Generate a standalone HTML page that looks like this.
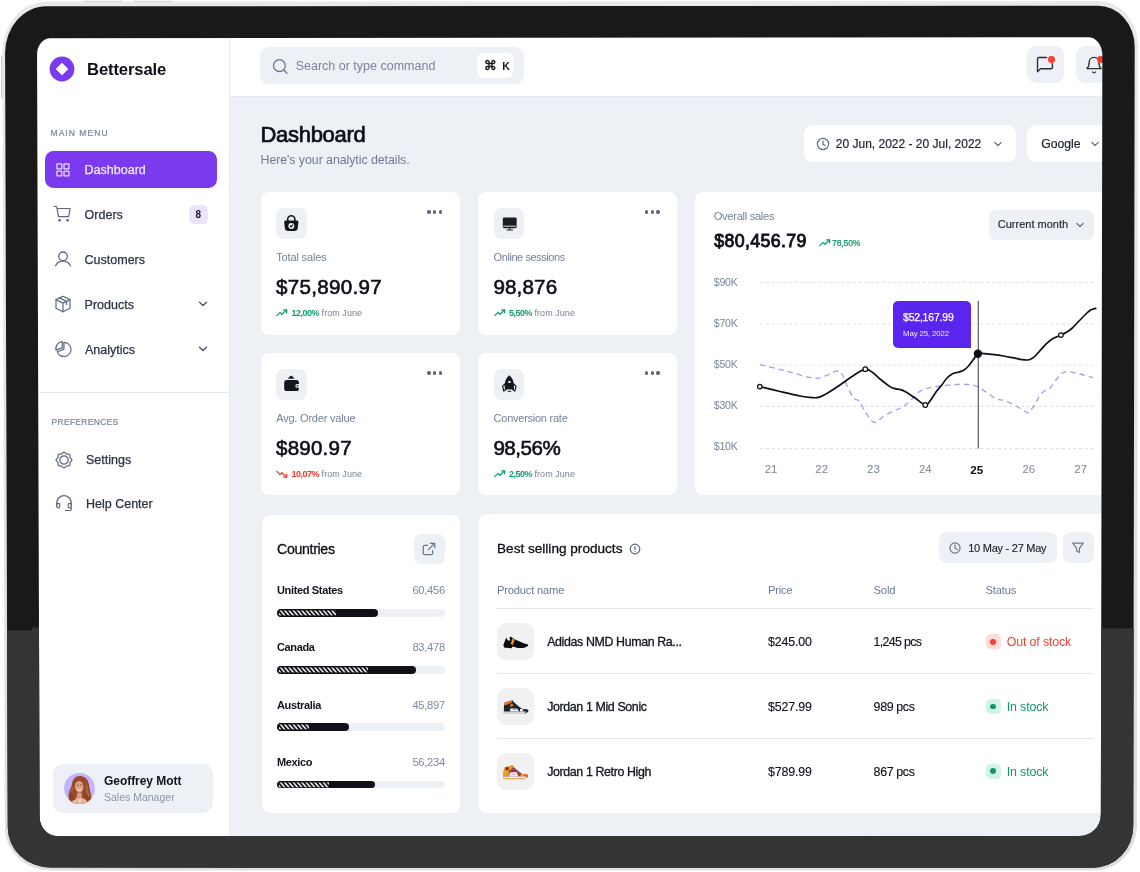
<!DOCTYPE html>
<html lang="en">
<head>
<meta charset="utf-8">
<title>Bettersale Dashboard</title>
<style>
*{box-sizing:border-box;margin:0;padding:0}
html,body{width:1140px;height:872px;background:#fff;overflow:hidden}
body{font-family:"Liberation Sans",sans-serif;color:#0f1117;position:relative}
.abs{position:absolute}
.t{position:absolute;white-space:nowrap;line-height:1}
/* device */
#screen{position:absolute;left:38px;top:38px;width:1070px;height:802px;background:#edf0f5}
#scrbg{position:absolute;left:34px;top:34px;width:1074px;height:806px;background:linear-gradient(90deg,#fff 0,#fff 195px,#edf0f5 195px)}
#scrbg2{position:absolute;left:200px;top:34px;width:908px;height:10px;background:#fff}
/* sidebar */
#side{position:absolute;left:0;top:0;width:192px;height:802px;background:#fff;border-right:1px solid #e8ebf2}
#topbar{position:absolute;left:192px;top:0;width:881px;height:59.2px;background:#fff;border-bottom:1px solid #e6e9f0}
.nav{position:absolute;left:46.6px;margin-top:.6px;font-size:12.5px;color:#2b3245;white-space:nowrap;line-height:1;-webkit-text-stroke:.25px #2b3245}
.sec{position:absolute;left:13px;font-size:8.5px;letter-spacing:.6px;color:#7a869d;-webkit-text-stroke:.2px #7a869d;line-height:1;white-space:nowrap}
</style>
</head>
<body>
<div id="scrbg"></div><div id="scrbg2"></div>
<div id="screen">
  <div id="side">
    <svg class="abs" style="left:11.2px;top:18.2px" width="26" height="26" viewBox="0 0 26 26"><circle cx="13" cy="13" r="12.4" fill="#7a3aed"/><path d="M13 7.6 L18.4 13 L13 18.4 L7.6 13 Z" fill="#fff" stroke="#fff" stroke-width="1.2" stroke-linejoin="round"/></svg>
    <div class="t" id="brand" style="left:49px;top:24.2px;font-size:16.6px;font-weight:700;letter-spacing:-.1px;color:#0d0f16">Bettersale</div>
    <div class="sec" style="top:90.5px;left:12.5px;letter-spacing:1.05px">MAIN MENU</div>
    <div class="abs" style="left:6.700px;top:112.500px;width:172.500px;height:37px;border-radius:8.500px;background:#7b3aee"></div>
    <svg class="abs" style="left:18px;top:124.5px" width="14" height="14" viewBox="0 0 14 14" fill="none" stroke="#e9dcff" stroke-width="1.25"><rect x=".9" y=".9" width="4.900" height="4.900" rx=".4"/><rect x="8" y=".9" width="4.900" height="4.900" rx=".4"/><rect x=".9" y="8" width="4.900" height="4.900" rx=".4"/><rect x="8" y="8" width="4.900" height="4.900" rx=".4"/></svg>
    <div class="nav" style="top:125.5px;color:#f1e9ff;-webkit-text-stroke:.25px #f1e9ff">Dashboard</div>

    <svg class="abs" style="left:15px;top:166px" width="20" height="20" viewBox="0 0 20 20" fill="none" stroke="#5d6880" stroke-width="1.2" stroke-linecap="round" stroke-linejoin="round"><path d="M1 2.5h2.6l2 10.2h10l1.6-8.2H4.2"/><circle cx="6.6" cy="16.3" r=".8" fill="#5d6880"/><circle cx="14.6" cy="16.3" r=".8" fill="#5d6880"/></svg>
    <div class="nav" style="top:170px">Orders</div>
    <div class="abs" style="left:151px;top:167px;width:19px;height:18.6px;border-radius:5.5px;background:#ece3fe"></div>
    <div class="t" style="left:157.6px;top:171.8px;font-size:10px;font-weight:700;color:#16181f">8</div>

    <svg class="abs" style="left:15px;top:211px" width="20" height="20" viewBox="0 0 20 20" fill="none" stroke="#5d6880" stroke-width="1.3" stroke-linecap="round"><circle cx="10" cy="7.300" r="4.300"/><path d="M2.600 16.800c1.300-3 4-4.700 7.400-4.700s6.100 1.700 7.400 4.700"/></svg>
    <div class="nav" style="top:215px">Customers</div>

    <svg class="abs" style="left:15px;top:256px" width="20" height="20" viewBox="0 0 20 20" fill="none" stroke="#5d6880" stroke-width="1.2" stroke-linejoin="round" stroke-linecap="round"><path d="M10 2.2l7 3.4v8.6l-7 3.6-7-3.6V5.600z"/><path d="M3 5.600l7 3.500 7-3.500M10 9.100v8.700M6.400 3.900l7.100 3.500v3.200"/></svg>
    <div class="nav" style="top:260px">Products</div>
    <svg class="abs" style="left:160px;top:262px" width="10" height="8" viewBox="0 0 10 8" fill="none" stroke="#4d5870" stroke-width="1.4" stroke-linecap="round" stroke-linejoin="round"><path d="M1.500 2.200l3.500 3.300 3.500-3.300"/></svg>

    <svg class="abs" style="left:15px;top:301px" width="20" height="20" viewBox="0 0 20 20" fill="none" stroke="#5d6880" stroke-width="1.2" stroke-linejoin="round" stroke-linecap="round"><path d="M10.900 3.300A7.100 7.100 0 1 1 4.200 12.800L10.900 10.400Z"/><path d="M9.300 2.700A7.100 7.100 0 0 0 2.900 11.100L9.300 8.900Z"/></svg>
    <div class="nav" style="top:305px;left:47px">Analytics</div>
    <svg class="abs" style="left:160px;top:307px" width="10" height="8" viewBox="0 0 10 8" fill="none" stroke="#4d5870" stroke-width="1.4" stroke-linecap="round" stroke-linejoin="round"><path d="M1.500 2.200l3.500 3.300 3.500-3.300"/></svg>

    <div class="abs" style="left:0;top:354px;width:191px;height:1px;background:#e6e9f1"></div>
    <div class="sec" style="top:380px;left:13.5px;letter-spacing:.3px">PREFERENCES</div>

    <svg class="abs" style="left:16px;top:411.500px" width="20" height="20" viewBox="0 0 20 20" fill="none" stroke="#5d6880" stroke-width="1.200" stroke-linejoin="round"><path d="M8.83 2.83Q10 1.3 11.17 2.83Q12.33 4.36 14.24 4.11Q16.15 3.85 15.89 5.76Q15.64 7.67 17.17 8.83Q18.7 10 17.17 11.17Q15.64 12.33 15.89 14.24Q16.15 16.15 14.24 15.89Q12.33 15.64 11.17 17.17Q10 18.7 8.83 17.17Q7.67 15.64 5.76 15.89Q3.85 16.15 4.11 14.24Q4.36 12.33 2.83 11.17Q1.3 10 2.83 8.83Q4.36 7.67 4.11 5.76Q3.85 3.85 5.76 4.11Q7.67 4.36 8.83 2.83Z"/><circle cx="10" cy="10" r="4.200"/></svg>
    <div class="nav" style="top:415.500px;left:48px">Settings</div>

    <svg class="abs" style="left:16px;top:455px" width="20" height="20" viewBox="0 0 20 20" fill="none" stroke="#5d6880" stroke-width="1.200" stroke-linecap="round" stroke-linejoin="round"><path d="M2.800 12.600V9.800a7.200 7.200 0 0 1 14.400 0v2.800"/><path d="M2.800 10.400h1.700a1.300 1.300 0 0 1 1.300 1.300v1.900a1.300 1.300 0 0 1-1.300 1.300h-.400a1.300 1.300 0 0 1-1.300-1.300zM17.200 10.400h-1.700a1.300 1.300 0 0 0-1.300 1.300v1.900a1.300 1.300 0 0 0 1.300 1.300h1.700z"/><path d="M17.200 14.900v1.300a1.300 1.300 0 0 1-1.300 1.300h-4.400"/></svg>
    <div class="nav" style="top:459px;left:48px">Help Center</div>

    <div class="abs" style="left:15px;top:726px;width:160px;height:49px;border-radius:10px;background:#edf0f5"></div>
    <svg class="abs" style="left:26.300px;top:734.900px" width="31" height="31" viewBox="0 0 31 31"><defs><clipPath id="av"><circle cx="15.500" cy="15.500" r="15.400"/></clipPath></defs><circle cx="15.500" cy="15.500" r="15.400" fill="#c2b3fb"/><g clip-path="url(#av)"><path d="M15.600 3.100c-4.300 0-6.900 3.300-7.500 7.700-.500 3.800-2.800 5.600-3.500 9.800-.600 3.600.600 7.400 2.600 10.400h19.200c1.600-3.300 1.300-7.600.100-11.400-1.100-3.500-.900-8.300-2.900-12.100-1.500-2.800-4.400-4.400-8-4.400z" fill="#97492a"/><path d="M8.600 14c-1.600 2.600-3.200 4.800-3.600 8 .800-2.400 2.400-4 3.900-5.600zM22.300 9c1.400 3 1.200 6.600 2 9.600.500 2 1.400 4.200 1.300 6.400-1.500-2.400-3-5.500-3.300-8.500z" fill="#b96d43"/><ellipse cx="15.200" cy="13.700" rx="4.300" ry="5.700" fill="#dba283" transform="rotate(-6 15.200 13.700)"/><path d="M11 9.600c.800-2.400 3.200-3.600 5.600-3.200 2 .300 3.400 1.400 3.800 3.400-1.400-1.500-3.300-1.900-5.200-1.700-1.700.200-3.100.800-4.200 1.500z" fill="#97492a"/><path d="M12.600 12.300h1.800M16.400 12h1.800" stroke="#7a4a3a" stroke-width=".700" stroke-linecap="round"/><path d="M7.600 31c.400-3.600 3.200-6.200 7.900-6.200s7.400 2.400 8.200 6.200z" fill="#e3b9a2"/><path d="M13.200 19.400h4.300l.600 5.800h-5.600z" fill="#d69b7c"/><path d="M13.400 16.600c1.200 1 2.800 1 3.900-.100" stroke="#fff" stroke-width=".900" fill="none" stroke-linecap="round"/><path d="M5.400 20.600c1.600-.400 3 .600 3.400 2.400.400 2 1.600 3.200 3.200 3.800-2.200.600-4.800-.200-6-2.200-.700-1.300-.900-2.700-.600-4zM20.600 19c1.800 1.600 2.400 4.200 4.400 5.800.900.700 1.300 1.700 1 3-2.400-.200-4.600-1.800-5.400-4.200-.500-1.500-.400-3.100 0-4.600z" fill="#8a4125"/><path d="M15 26.600l.900 3.400.900-3.400z" fill="#f5f5f7"/></g></svg>
    <div class="t" id="uname" style="left:66px;top:737px;font-size:12px;font-weight:700;color:#12141c;letter-spacing:-.05px">Geoffrey Mott</div>
    <div class="t" id="urole" style="left:66px;top:753.700px;font-size:10.500px;color:#8b95a9">Sales Manager</div>
  </div>
  <div id="topbar">
    <div class="abs" style="left:30px;top:9px;width:264px;height:37px;border-radius:9px;background:#edf0f5"></div>
    <svg class="abs" style="left:41.5px;top:19.700px" width="17" height="17" viewBox="0 0 17 17" fill="none" stroke="#6b7690" stroke-width="1.300" stroke-linecap="round"><circle cx="7.400" cy="7.600" r="5.900"/><path d="M11.700 12l3.200 3.200"/></svg>
    <div class="t" id="ph" style="left:65.7px;top:22.100px;font-size:12.500px;color:#7a859c">Search or type command</div>
    <div class="abs" style="left:247.3px;top:15px;width:35.400px;height:24.500px;border-radius:6px;background:#fff"></div>
    <div class="t" style="left:253.5px;top:21px;font-size:11px;font-weight:700;color:#16181f;font-family:'Liberation Sans','DejaVu Sans',sans-serif"><span style="font-family:'DejaVu Sans',sans-serif;font-size:13.2px;font-weight:400;-webkit-text-stroke:.45px #16181f">&#8984;</span><span style="font-size:10.5px;margin-left:5.5px">K</span></div>

  </div>
<!--MAIN-->
<div id="main" style="position:absolute;left:-38px;top:-38px;width:1140px;height:872px">
<div class="abs" style="left:1026.7px;top:45.6px;width:37px;height:37.2px;background:#edf0f5;border-radius:9px;"></div>
<svg class="abs" style="left:1030px;top:50px" width="30" height="30" viewBox="0 0 30 30" fill="none" stroke="#2a2f3a" stroke-width="1.35" stroke-linecap="round" stroke-linejoin="round"><path d="M16.6 7.500H8.700a1.200 1.200 0 0 0-1.200 1.200V21.700l3-3h10.700a1.200 1.200 0 0 0 1.200-1.200V13.600"/></svg>
<div class="abs" style="left:1047.8px;top:55.8px;width:6.8px;height:6.8px;background:#ff3b2f;border-radius:3.4px;"></div>
<div class="abs" style="left:1076.3px;top:45.6px;width:37px;height:37.2px;background:#edf0f5;border-radius:9px;"></div>
<svg class="abs" style="left:1079.2px;top:50px" width="30" height="30" viewBox="0 0 30 30" fill="none" stroke="#2a2f3a" stroke-width="1.35" stroke-linecap="round" stroke-linejoin="round"><path d="M7.900 18.600c1.700-1.500 2.300-3.400 2.300-6.400a4.800 4.800 0 0 1 9.600 0c0 3 .600 4.900 2.300 6.400z"/><path d="M13.500 22a1.800 1.800 0 0 0 3 0"/></svg>
<div class="abs" style="left:1096.8px;top:55.8px;width:6.8px;height:6.8px;background:#ff3b2f;border-radius:3.4px;"></div>
<div class="t" id="h1" style="left:260.5px;top:123.96px;font-size:22px;color:#0d0f16;letter-spacing:-0.3px;-webkit-text-stroke:0.7px #0d0f16;">Dashboard</div>
<div class="t" id="sub" style="left:260.5px;top:153.85px;font-size:12.4px;color:#6f7a92;letter-spacing:-0.07px;">Here's your analytic details.</div>
<div class="abs" style="left:803.5px;top:125.4px;width:212.8px;height:36.6px;background:#fff;border-radius:8.5px;"></div>
<svg class="abs" style="left:814.8px;top:136.2px" width="16" height="16" viewBox="0 0 16 16" fill="none" stroke="#5d6880" stroke-width="1.2" stroke-linecap="round" stroke-linejoin="round"><circle cx="8" cy="8" r="5.6"/><path d="M8 4.8v3.4l2.2 1.3"/></svg>
<div class="t" id="dp" style="left:835.8px;top:137.96px;font-size:12px;color:#1c2130;-webkit-text-stroke:0.2px #1c2130;">20 Jun, 2022 - 20 Jul, 2022</div>
<svg class="abs" style="left:993.3px;top:139.8px" width="10" height="8" viewBox="0 0 10 8" fill="none" stroke="#5d6880" stroke-width="1.2" stroke-linecap="round" stroke-linejoin="round"><path d="M1.7 2.4l3.3 3.1 3.3-3.1"/></svg>
<div class="abs" style="left:1027.2px;top:125.4px;width:95px;height:36.6px;background:#fff;border-radius:9px;"></div>
<div class="t" id="goog" style="left:1041.2px;top:137.86px;font-size:12.2px;color:#1c2130;-webkit-text-stroke:0.2px #1c2130;">Google</div>
<svg class="abs" style="left:1090px;top:139.8px" width="10" height="8" viewBox="0 0 10 8" fill="none" stroke="#5d6880" stroke-width="1.2" stroke-linecap="round" stroke-linejoin="round"><path d="M1.7 2.4l3.3 3.1 3.3-3.1"/></svg>
<div class="abs" style="left:260.8px;top:192px;width:199.1px;height:142.6px;background:#fff;border-radius:8px;"></div>
<div class="abs" style="left:276.1px;top:207.6px;width:30.7px;height:31px;background:#edf0f5;border-radius:7.5px;"></div>
<svg class="abs" style="left:276.1px;top:207.6px" width="30.7" height="31" viewBox="0 0 30.7 31" ><path d="M9.600 12.600h11.400a1.400 1.400 0 0 1 1.400 1.600l-.700 6.400a2.800 2.800 0 0 1-2.800 2.500h-7.200a2.800 2.800 0 0 1-2.800-2.500l-.700-6.400a1.400 1.400 0 0 1 1.400-1.600z" fill="#14161c"/><path d="M11.700 13v-1.700a3.600 3.600 0 0 1 7.200 0V13" fill="none" stroke="#14161c" stroke-width="1.600"/><circle cx="15.300" cy="17.900" r="3" fill="#edf0f5"/><path d="M13.900 17.800l1.100 1.100 2.100-2.300" fill="none" stroke="#14161c" stroke-width="1.200"/></svg>
<div class="abs" style="left:427.4px;top:210.2px;width:3.4px;height:3.4px;background:#5d6880;border-radius:1.7px;"></div>
<div class="abs" style="left:433.1px;top:210.2px;width:3.4px;height:3.4px;background:#5d6880;border-radius:1.7px;"></div>
<div class="abs" style="left:438.8px;top:210.2px;width:3.4px;height:3.4px;background:#5d6880;border-radius:1.7px;"></div>
<div class="t" style="left:276.2px;top:252.18px;font-size:11px;color:#76819a;letter-spacing:-0.15px;">Total sales</div>
<div class="t" style="left:276px;top:276.5px;font-size:20.6px;color:#0d0f16;letter-spacing:0.3px;-webkit-text-stroke:0.6px #0d0f16;">$75,890.97</div>
<svg class="abs" style="left:276.2px;top:309.2px" width="12" height="8" viewBox="0 0 12 8" fill="none" stroke="#0f9d6c" stroke-width="1.3" stroke-linecap="round" stroke-linejoin="round"><path d="M.8 6.6l3.2-3.2 1.9 1.9 4.6-4.4"/><path d="M7.7 .9h2.9v2.9"/></svg>
<div class="t" style="left:291.5px;top:308.52px;font-size:9px;color:#76819a;letter-spacing:0.05px;"><b style="color:#0f9d6c;letter-spacing:-0.5px">12,00%</b> from June</div>
<div class="abs" style="left:478.2px;top:192px;width:198.8px;height:142.6px;background:#fff;border-radius:8px;"></div>
<div class="abs" style="left:493.5px;top:207.6px;width:30.7px;height:31px;background:#edf0f5;border-radius:7.5px;"></div>
<svg class="abs" style="left:493.5px;top:207.6px" width="30.7" height="31" viewBox="0 0 30.7 31" ><path d="M10.200 9.500h11.100a1.400 1.400 0 0 1 1.400 1.400v7.900a1.400 1.400 0 0 1-1.400 1.400H10.200a1.400 1.400 0 0 1-1.400-1.400v-7.900a1.400 1.400 0 0 1 1.400-1.400z" fill="#1b1d23"/><path d="M9.300 18.150h12.900" stroke="#f3f5f9" stroke-width=".900"/><path d="M15.750 20.200v1.500M13 22h5.500" stroke="#1b1d23" stroke-width="1.100" fill="none" stroke-linecap="round"/></svg>
<div class="abs" style="left:644.8px;top:210.2px;width:3.4px;height:3.4px;background:#5d6880;border-radius:1.7px;"></div>
<div class="abs" style="left:650.5px;top:210.2px;width:3.4px;height:3.4px;background:#5d6880;border-radius:1.7px;"></div>
<div class="abs" style="left:656.2px;top:210.2px;width:3.4px;height:3.4px;background:#5d6880;border-radius:1.7px;"></div>
<div class="t" style="left:493.6px;top:252.18px;font-size:11px;color:#76819a;letter-spacing:-0.43px;">Online sessions</div>
<div class="t" style="left:493.4px;top:276.5px;font-size:20.6px;color:#0d0f16;letter-spacing:0.14px;-webkit-text-stroke:0.6px #0d0f16;">98,876</div>
<svg class="abs" style="left:493.6px;top:309.2px" width="12" height="8" viewBox="0 0 12 8" fill="none" stroke="#0f9d6c" stroke-width="1.3" stroke-linecap="round" stroke-linejoin="round"><path d="M.8 6.6l3.2-3.2 1.9 1.9 4.6-4.4"/><path d="M7.7 .9h2.9v2.9"/></svg>
<div class="t" style="left:508.9px;top:308.52px;font-size:9px;color:#76819a;letter-spacing:0.05px;"><b style="color:#0f9d6c;letter-spacing:-0.5px">5,50%</b> from June</div>
<div class="abs" style="left:260.8px;top:353.2px;width:199.1px;height:142px;background:#fff;border-radius:8px;"></div>
<div class="abs" style="left:276.1px;top:368.8px;width:30.7px;height:31px;background:#edf0f5;border-radius:7.5px;"></div>
<svg class="abs" style="left:276.1px;top:368.8px" width="30.7" height="31" viewBox="0 0 30.7 31" ><path d="M12 9.700c1.200-1.500 2-2.900 3.200-2.900s2 1.400 3.200 2.900z" fill="#14161c"/><rect x="8.200" y="10.900" width="14.700" height="11.100" rx="2.600" fill="#14161c"/><path d="M23.200 15h-2a1.900 1.900 0 0 0 0 3.800h2z" fill="#edf0f5"/><circle cx="21.500" cy="16.900" r=".800" fill="#14161c"/></svg>
<div class="abs" style="left:427.4px;top:371.4px;width:3.4px;height:3.4px;background:#5d6880;border-radius:1.7px;"></div>
<div class="abs" style="left:433.1px;top:371.4px;width:3.4px;height:3.4px;background:#5d6880;border-radius:1.7px;"></div>
<div class="abs" style="left:438.8px;top:371.4px;width:3.4px;height:3.4px;background:#5d6880;border-radius:1.7px;"></div>
<div class="t" style="left:276.2px;top:413.38px;font-size:11px;color:#76819a;letter-spacing:-0.2px;">Avg. Order value</div>
<div class="t" style="left:276px;top:437.7px;font-size:20.6px;color:#0d0f16;letter-spacing:0.2px;-webkit-text-stroke:0.6px #0d0f16;">$890.97</div>
<svg class="abs" style="left:276.2px;top:470.4px" width="12" height="8" viewBox="0 0 12 8" fill="none" stroke="#f0382c" stroke-width="1.3" stroke-linecap="round" stroke-linejoin="round"><path d="M.8 1.4l3.2 3.2 1.9-1.9 4.6 4.4"/><path d="M7.700 7.100h2.900v-2.900"/></svg>
<div class="t" style="left:291.5px;top:469.72px;font-size:9px;color:#76819a;letter-spacing:0.05px;"><b style="color:#f0382c;letter-spacing:-0.5px">10,07%</b> from June</div>
<div class="abs" style="left:478.2px;top:353.2px;width:198.8px;height:142px;background:#fff;border-radius:8px;"></div>
<div class="abs" style="left:493.5px;top:368.8px;width:30.7px;height:31px;background:#edf0f5;border-radius:7.5px;"></div>
<svg class="abs" style="left:493.5px;top:368.8px" width="30.7" height="31" viewBox="0 0 30.7 31" ><path d="M15.300 6.200c2.900 2.300 4.500 5.800 4.500 9.600v4.400h-9v-4.400c0-3.800 1.600-7.300 4.500-9.600z" fill="#14161c"/><path d="M11 14.800l-2.400 2.400 1.200 4.900 2.200-1.600zM19.600 14.800l2.400 2.400-1.200 4.900-2.200-1.600z" fill="#edf0f5" stroke="#14161c" stroke-width="1.200" stroke-linejoin="round"/><path d="M10.800 15v5.200h9V15z" fill="#14161c"/><rect x="14.300" y="12" width="2.200" height="1.900" rx=".500" fill="#edf0f5"/><path d="M14 22.200h2.800" stroke="#14161c" stroke-width="1.100" stroke-linecap="round"/></svg>
<div class="abs" style="left:644.8px;top:371.4px;width:3.4px;height:3.4px;background:#5d6880;border-radius:1.7px;"></div>
<div class="abs" style="left:650.5px;top:371.4px;width:3.4px;height:3.4px;background:#5d6880;border-radius:1.7px;"></div>
<div class="abs" style="left:656.2px;top:371.4px;width:3.4px;height:3.4px;background:#5d6880;border-radius:1.7px;"></div>
<div class="t" style="left:493.6px;top:413.38px;font-size:11px;color:#76819a;letter-spacing:-0.25px;">Conversion rate</div>
<div class="t" style="left:493.4px;top:437.7px;font-size:20.6px;color:#0d0f16;letter-spacing:-0.48px;-webkit-text-stroke:0.6px #0d0f16;">98,56%</div>
<svg class="abs" style="left:493.6px;top:470.4px" width="12" height="8" viewBox="0 0 12 8" fill="none" stroke="#0f9d6c" stroke-width="1.3" stroke-linecap="round" stroke-linejoin="round"><path d="M.8 6.6l3.2-3.2 1.9 1.9 4.6-4.4"/><path d="M7.7 .9h2.9v2.9"/></svg>
<div class="t" style="left:508.9px;top:469.72px;font-size:9px;color:#76819a;letter-spacing:0.05px;"><b style="color:#0f9d6c;letter-spacing:-0.5px">2,50%</b> from June</div>
<div class="abs" style="left:694.8px;top:191.5px;width:440px;height:303.1px;background:#fff;border-radius:8px;"></div>
<div class="t" style="left:713.7px;top:210.58px;font-size:11.2px;color:#76819a;letter-spacing:-0.32px;">Overall sales</div>
<div class="t" id="ov" style="left:714.2px;top:232.9px;font-size:17.8px;color:#0d0f16;letter-spacing:0.35px;-webkit-text-stroke:0.85px #0d0f16;">$80,456.79</div>
<svg class="abs" style="left:818.6px;top:239.2px" width="12" height="8" viewBox="0 0 12 8" fill="none" stroke="#0f9d6c" stroke-width="1.3" stroke-linecap="round" stroke-linejoin="round"><path d="M.8 6.6l3.2-3.2 1.9 1.9 4.6-4.4"/><path d="M7.7 .9h2.9v2.9"/></svg>
<div class="t" style="left:832px;top:239.03px;font-size:8.6px;color:#0f9d6c;letter-spacing:-0.15px;-webkit-text-stroke:0.25px #0f9d6c;">78,50%</div>
<div class="abs" style="left:988.7px;top:209.5px;width:105.5px;height:30.6px;background:#edf0f5;border-radius:7px;"></div>
<div class="t" id="cm" style="left:997.8px;top:219.28px;font-size:11px;color:#1c2130;-webkit-text-stroke:0.15px #1c2130;">Current month</div>
<svg class="abs" style="left:1074.5px;top:221.4px" width="10" height="8" viewBox="0 0 10 8" fill="none" stroke="#5d6880" stroke-width="1.2" stroke-linecap="round" stroke-linejoin="round"><path d="M1.7 2.4l3.3 3.1 3.3-3.1"/></svg>
<svg class="abs" style="left:690px;top:270px" width="420" height="200" viewBox="0 0 420 200" ><path d="M70 12.5 H405" stroke="#dfe3ec" stroke-width="1.1" stroke-dasharray="3.2 2.6"/><path d="M70 54 H405" stroke="#dfe3ec" stroke-width="1.1" stroke-dasharray="3.2 2.6"/><path d="M70 95.2 H405" stroke="#dfe3ec" stroke-width="1.1" stroke-dasharray="3.2 2.6"/><path d="M70 136.4 H405" stroke="#dfe3ec" stroke-width="1.1" stroke-dasharray="3.2 2.6"/><path d="M70 178.6 H405" stroke="#dfe3ec" stroke-width="1.1" stroke-dasharray="3.2 2.6"/><path d="M70 94.6C74.33 95.67 87.07 98.73 96 101C104.93 103.27 117.1 107.37 123.6 108.2C130.1 109.03 131.18 107.2 135 106C138.82 104.8 143.67 101.33 146.5 101C149.33 100.67 150.08 101.17 152 104C153.92 106.83 156 113.92 158 118C160 122.08 162.17 126.33 164 128.5C165.83 130.67 167 128.58 169 131C171 133.42 173.47 139.43 176 143C178.53 146.57 181.2 151.9 184.2 152.4C187.2 152.9 190.65 147.98 194 146C197.35 144.02 201.3 141.92 204.3 140.5C207.3 139.08 209.38 139.08 212 137.5C214.62 135.92 216.95 133.73 220 131C223.05 128.27 226.07 123.5 230.3 121.1C234.53 118.7 239.1 117.73 245.4 116.6C251.7 115.47 262.33 114.6 268.1 114.3C273.87 114 276.83 114.43 280 114.8C283.17 115.17 284.43 115.3 287.1 116.5C289.77 117.7 292.85 119.97 296 122C299.15 124.03 302.87 127.25 306 128.7C309.13 130.15 311.47 129.48 314.8 130.7C318.13 131.92 322.22 134.03 326 136C329.78 137.97 335 141.83 337.5 142.5C340 143.17 339.58 141.75 341 140C342.42 138.25 344.27 134.73 346 132C347.73 129.27 349.73 125.6 351.4 123.6C353.07 121.6 354.53 120.93 356 120C357.47 119.07 358.53 119.67 360.2 118C361.87 116.33 364.1 112.4 366 110C367.9 107.6 370.1 104.93 371.6 103.6C373.1 102.27 373.73 102.3 375 102C376.27 101.7 376.7 101.47 379.2 101.8C381.7 102.13 386.02 103.02 390 104C393.98 104.98 400.92 107.08 403.1 107.7" fill="none" stroke="#a99af5" stroke-width="1.3" stroke-dasharray="5.5 4"/><path d="M288.3 30.8 V178.6" stroke="#4a4d55" stroke-width="1.1"/><path d="M69.8 116.6C73.17 117.42 83.3 119.93 90 121.5C96.7 123.07 104.67 124.98 110 126C115.33 127.02 118.9 127.37 122 127.6C125.1 127.83 126.27 128 128.6 127.4C130.93 126.8 132.43 126.07 136 124C139.57 121.93 145.17 118.25 150 115C154.83 111.75 160.78 107.13 165 104.5C169.22 101.87 172.47 99.62 175.3 99.2C178.13 98.78 179.55 100.37 182 102C184.45 103.63 187 106.57 190 109C193 111.43 197.5 115 200 116.6C202.5 118.2 203.33 118.12 205 118.6C206.67 119.08 208.33 119 210 119.5C211.67 120 212.5 120.18 215 121.6C217.5 123.02 221.62 125.77 225 128C228.38 130.23 232.8 134.5 235.3 135C237.8 135.5 238.22 133.17 240 131C241.78 128.83 244.03 124.67 246 122C247.97 119.33 249.97 117.33 251.8 115C253.63 112.67 255.12 109.92 257 108C258.88 106.08 261.27 104.47 263.1 103.5C264.93 102.53 266.32 102.7 268 102.2C269.68 101.7 271.53 101.45 273.2 100.5C274.87 99.55 276.37 98.25 278 96.5C279.63 94.75 281.35 92.12 283 90C284.65 87.88 286.07 84.87 287.9 83.8C289.73 82.73 291.65 83.5 294 83.6C296.35 83.7 298.73 84 302 84.4C305.27 84.8 309.77 85.37 313.6 86C317.43 86.63 321.93 87.6 325 88.2C328.07 88.8 329.9 89.3 332 89.6C334.1 89.9 336.1 90.1 337.6 90C339.1 89.9 339.73 89.67 341 89C342.27 88.33 343.53 87.58 345.2 86C346.87 84.42 349.12 81.57 351 79.5C352.88 77.43 354.5 75.43 356.5 73.6C358.5 71.77 360.6 69.92 363 68.5C365.4 67.08 368.73 66.1 370.9 65.1C373.07 64.1 374.18 63.6 376 62.5C377.82 61.4 379.63 60.42 381.8 58.5C383.97 56.58 386.48 53.58 389 51C391.52 48.42 394.9 44.87 396.9 43C398.9 41.13 399.53 40.57 401 39.8C402.47 39.03 404.92 38.63 405.7 38.4" fill="none" stroke="#0d0f16" stroke-width="1.7" stroke-linejoin="round" stroke-linecap="round"/><circle cx="69.8" cy="116.6" r="2.3" fill="#fff" stroke="#0d0f16" stroke-width="1.2"/><circle cx="175.3" cy="99.2" r="2.3" fill="#fff" stroke="#0d0f16" stroke-width="1.2"/><circle cx="235.3" cy="135" r="2.3" fill="#fff" stroke="#0d0f16" stroke-width="1.2"/><circle cx="370.9" cy="65.1" r="2.3" fill="#fff" stroke="#0d0f16" stroke-width="1.2"/><circle cx="287.9" cy="83.8" r="4.2" fill="#0d0f16"/></svg>
<div class="t" style="left:713.8px;top:276.89px;font-size:10.6px;color:#7a869d;letter-spacing:-0.25px;">$90K</div>
<div class="t" style="left:713.8px;top:318.29px;font-size:10.6px;color:#7a869d;letter-spacing:-0.25px;">$70K</div>
<div class="t" style="left:713.8px;top:359.29px;font-size:10.6px;color:#7a869d;letter-spacing:-0.25px;">$50K</div>
<div class="t" style="left:713.8px;top:399.89px;font-size:10.6px;color:#7a869d;letter-spacing:-0.25px;">$30K</div>
<div class="t" style="left:713.8px;top:441.29px;font-size:10.6px;color:#7a869d;letter-spacing:-0.25px;">$10K</div>
<div class="t" style="left:764.7px;top:464.07px;font-size:11.4px;color:#7a869d;">21</div>
<div class="t" style="left:815.3px;top:464.07px;font-size:11.4px;color:#7a869d;">22</div>
<div class="t" style="left:867.1px;top:464.07px;font-size:11.4px;color:#7a869d;">23</div>
<div class="t" style="left:918.9px;top:464.07px;font-size:11.4px;color:#7a869d;">24</div>
<div class="t" style="left:970.3px;top:464.17px;font-size:11.6px;color:#0d0f16;font-weight:700;">25</div>
<div class="t" style="left:1022.5px;top:464.07px;font-size:11.4px;color:#7a869d;">26</div>
<div class="t" style="left:1074.3px;top:464.07px;font-size:11.4px;color:#7a869d;">27</div>
<div class="abs" style="left:893px;top:300.8px;width:78.2px;height:47.4px;background:#5b25f0;border-radius:5px;border-bottom-right-radius:0;"></div>
<div class="t" id="tt" style="left:903px;top:313.19px;font-size:10.4px;color:#fff;letter-spacing:-0.15px;-webkit-text-stroke:0.25px #fff;">$52,167.99</div>
<div class="t" style="left:903px;top:329.84px;font-size:7.8px;color:#efeaff;letter-spacing:-0.1px;">May 25, 2022</div>
<div class="abs" style="left:262px;top:514.5px;width:198px;height:298.4px;background:#fff;border-radius:8px;"></div>
<div class="t" id="ct" style="left:277px;top:541.62px;font-size:14.2px;color:#0d0f16;letter-spacing:-0.34px;-webkit-text-stroke:0.3px #0d0f16;">Countries</div>
<div class="abs" style="left:414.2px;top:533.6px;width:30.4px;height:30px;background:#edf0f5;border-radius:7px;"></div>
<svg class="abs" style="left:421.4px;top:540.6px" width="16" height="16" viewBox="0 0 16 16" fill="none" stroke="#6b7690" stroke-width="1.2" stroke-linecap="round" stroke-linejoin="round"><path d="M9.300 2.300h4.400v4.400M13.500 2.500L7.400 8.600"/><path d="M11.700 9.300v3a1.400 1.400 0 0 1-1.400 1.400H3.700a1.400 1.400 0 0 1-1.400-1.400V5.700a1.400 1.400 0 0 1 1.400-1.400h3"/></svg>
<svg width="0" height="0" style="position:absolute"><defs><pattern id="hatch" width="4.300" height="8" patternUnits="userSpaceOnUse" patternTransform="skewX(40)"><rect width="4.300" height="8" fill="#0f1117"/><rect x="1.300" y="1.500" width="1.900" height="4.800" fill="#fff"/></pattern></defs></svg>
<div class="t" style="left:277px;top:584.98px;font-size:11px;color:#12141c;font-weight:700;letter-spacing:-0.35px;">United States</div>
<div class="t" style="right:695.2px;top:584.88px;font-size:11.2px;color:#7f8aa1;letter-spacing:-0.3px;">60,456</div>
<div class="abs" style="left:277px;top:608.9px;width:167.6px;height:7.8px;background:#edf0f5;border-radius:4px;"></div>
<div class="abs" style="left:277px;top:608.9px;width:100.8px;height:7.8px;background:#0f1117;border-radius:4px;"></div>
<svg class="abs" style="left:277px;top:608.9px" width="61" height="7.8" viewBox="0 0 61 7.8" ><rect x="2" y="0" width="57" height="7.800" fill="url(#hatch)"/></svg>
<div class="t" style="left:277px;top:642.48px;font-size:11px;color:#12141c;font-weight:700;letter-spacing:-0.35px;">Canada</div>
<div class="t" style="right:695.2px;top:642.38px;font-size:11.2px;color:#7f8aa1;letter-spacing:-0.3px;">83,478</div>
<div class="abs" style="left:277px;top:665.8px;width:167.6px;height:7.8px;background:#edf0f5;border-radius:4px;"></div>
<div class="abs" style="left:277px;top:665.8px;width:139.4px;height:7.8px;background:#0f1117;border-radius:4px;"></div>
<svg class="abs" style="left:277px;top:665.8px" width="93" height="7.8" viewBox="0 0 93 7.8" ><rect x="2" y="0" width="89" height="7.800" fill="url(#hatch)"/></svg>
<div class="t" style="left:277px;top:699.78px;font-size:11px;color:#12141c;font-weight:700;letter-spacing:-0.35px;">Australia</div>
<div class="t" style="right:695.2px;top:699.68px;font-size:11.2px;color:#7f8aa1;letter-spacing:-0.3px;">45,897</div>
<div class="abs" style="left:277px;top:723.3px;width:167.6px;height:7.8px;background:#edf0f5;border-radius:4px;"></div>
<div class="abs" style="left:277px;top:723.3px;width:72px;height:7.8px;background:#0f1117;border-radius:4px;"></div>
<svg class="abs" style="left:277px;top:723.3px" width="34" height="7.8" viewBox="0 0 34 7.8" ><rect x="2" y="0" width="30" height="7.800" fill="url(#hatch)"/></svg>
<div class="t" style="left:277px;top:756.78px;font-size:11px;color:#12141c;font-weight:700;letter-spacing:-0.35px;">Mexico</div>
<div class="t" style="right:695.2px;top:756.68px;font-size:11.2px;color:#7f8aa1;letter-spacing:-0.3px;">56,234</div>
<div class="abs" style="left:277px;top:780.7px;width:167.6px;height:7.8px;background:#edf0f5;border-radius:4px;"></div>
<div class="abs" style="left:277px;top:780.7px;width:97.5px;height:7.8px;background:#0f1117;border-radius:4px;"></div>
<svg class="abs" style="left:277px;top:780.7px" width="54" height="7.8" viewBox="0 0 54 7.8" ><rect x="2" y="0" width="50" height="7.800" fill="url(#hatch)"/></svg>
<div class="abs" style="left:479px;top:514.3px;width:650px;height:298.6px;background:#fff;border-radius:8px;"></div>
<div class="t" id="bs" style="left:497px;top:541.53px;font-size:13.6px;color:#0d0f16;-webkit-text-stroke:0.3px #0d0f16;">Best selling products</div>
<svg class="abs" style="left:629.3px;top:542.5px" width="12" height="12" viewBox="0 0 12 12" fill="none" stroke="#5d6880" stroke-width="1.2" stroke-linecap="round" stroke-linejoin="round"><circle cx="6" cy="6" r="4.800"/><path d="M6 3.600v3M6 8.300v.200"/></svg>
<div class="abs" style="left:939.3px;top:532.2px;width:117.4px;height:30.9px;background:#edf0f5;border-radius:7.5px;"></div>
<svg class="abs" style="left:947.4px;top:540px" width="16" height="16" viewBox="0 0 16 16" fill="none" stroke="#6b7690" stroke-width="1.2" stroke-linecap="round" stroke-linejoin="round"><circle cx="8" cy="8" r="5.1"/><path d="M8 4.8v3.4l2.2 1.3"/></svg>
<div class="t" id="mm" style="left:968.2px;top:543.08px;font-size:11px;color:#1c2130;letter-spacing:-0.25px;-webkit-text-stroke:0.15px #1c2130;">10 May - 27 May</div>
<div class="abs" style="left:1062.8px;top:532.2px;width:30.9px;height:30.9px;background:#edf0f5;border-radius:7.5px;"></div>
<svg class="abs" style="left:1070.3px;top:539.8px" width="16" height="16" viewBox="0 0 16 16" fill="none" stroke="#6b7690" stroke-width="1.2" stroke-linecap="round" stroke-linejoin="round"><path d="M2.800 3.200h10.400L9.400 8.300v4.200L6.600 11V8.300z"/></svg>
<div class="t" style="left:497px;top:584.98px;font-size:11.2px;color:#6b7896;letter-spacing:-0.2px;">Product name</div>
<div class="t" style="left:768px;top:584.98px;font-size:11.2px;color:#6b7896;letter-spacing:-0.2px;">Price</div>
<div class="t" style="left:873.6px;top:584.98px;font-size:11.2px;color:#6b7896;letter-spacing:-0.2px;">Sold</div>
<div class="t" style="left:985.6px;top:584.98px;font-size:11.2px;color:#6b7896;letter-spacing:-0.2px;">Status</div>
<div class="abs" style="left:497px;top:608.4px;width:596.5px;height:1px;background:#e4e7ef;"></div>
<div class="abs" style="left:497px;top:673px;width:596.5px;height:1px;background:#e4e7ef;"></div>
<div class="abs" style="left:497px;top:738.3px;width:596.5px;height:1px;background:#e4e7ef;"></div>
<div class="abs" style="left:497.2px;top:623px;width:37px;height:37px;background:#f1f1f2;border-radius:9px;"></div>
<svg class="abs" style="left:497.2px;top:623px" width="37" height="37" viewBox="0 0 37 37" ><path d="M9.200 14.400L6.300 22.200 7.500 24.700 14.600 25.200 15.500 23.600 20.900 25 26.700 25 31 23 31.300 21.500 27.300 20.600 22.700 18.600 18.100 16.400 13.500 13.600 12.500 14.900 13.200 17.400 10.800 17.400z" fill="#0c0c0e"/><path d="M15.600 15.200L17.700 16.500 15.900 22 13.700 20.800z" fill="#f29a1f"/></svg>
<div class="t" id="pn0" style="left:547.2px;top:636.05px;font-size:12.4px;color:#12141c;letter-spacing:-0.37px;-webkit-text-stroke:0.3px #12141c;">Adidas NMD Human Ra...</div>
<div class="t" id="pp0" style="left:768px;top:636.05px;font-size:12.4px;color:#12141c;letter-spacing:-0.15px;-webkit-text-stroke:0.15px #12141c;">$245.00</div>
<div class="t" id="ps0" style="left:873.6px;top:636.05px;font-size:12.4px;color:#12141c;letter-spacing:-0.68px;-webkit-text-stroke:0.15px #12141c;">1,245 pcs</div>
<div class="abs" style="left:985.6px;top:634.1px;width:15.2px;height:15.4px;background:#ffdcd9;border-radius:4.5px;"></div>
<div class="abs" style="left:990.3px;top:638.9px;width:5.8px;height:5.8px;background:#f03e2f;border-radius:3px;"></div>
<div class="t" id="st0" style="left:1006.8px;top:636.05px;font-size:12.4px;color:#f03e2f;letter-spacing:-0.15px;">Out of stock</div>
<div class="abs" style="left:497.2px;top:688px;width:37px;height:37px;background:#f1f1f2;border-radius:9px;"></div>
<svg class="abs" style="left:497.2px;top:688px" width="37" height="37" viewBox="0 0 37 37" ><path d="M7.700 14.400L15.500 12.200 17.200 14.500 22.400 19 25.800 21.300 29.800 21.100 31.600 22.500 31 24 27 25.900 6.900 25.900 6.900 19z" fill="#1d2434"/><path d="M7.700 14.400L15 12.300 15.400 14.200 8.600 17.200 7.400 16.600z" fill="#ec7f17"/><path d="M13 16.400l2.600-1 .8 2.400-2.600 1.200z" fill="#ec7f17"/><path d="M13.200 20.400L20 20.400 22 23.400 13.200 23.400z" fill="#f4f5f7"/><path d="M23 20.700l2.800.700.500 2-3.300.100z" fill="#f4f5f7"/><path d="M6.900 23.500H29.500L27 25.900H6.900z" fill="#d3d5d8"/><path d="M15 21.200c2 .8 4 .2 5.400-1.400-1 1.800-3 3-5.400 1.400z" fill="#1d2434"/></svg>
<div class="t" id="pn1" style="left:547.2px;top:700.75px;font-size:12.4px;color:#12141c;letter-spacing:-0.37px;-webkit-text-stroke:0.3px #12141c;">Jordan 1 Mid Sonic</div>
<div class="t" id="pp1" style="left:768px;top:700.75px;font-size:12.4px;color:#12141c;letter-spacing:-0.15px;-webkit-text-stroke:0.15px #12141c;">$527.99</div>
<div class="t" id="ps1" style="left:873.6px;top:700.75px;font-size:12.4px;color:#12141c;letter-spacing:-0.35px;-webkit-text-stroke:0.15px #12141c;">989 pcs</div>
<div class="abs" style="left:985.6px;top:698.8px;width:15.2px;height:15.4px;background:#d3f3e6;border-radius:4.5px;"></div>
<div class="abs" style="left:990.3px;top:703.6px;width:5.8px;height:5.8px;background:#0e9a68;border-radius:3px;"></div>
<div class="t" id="st1" style="left:1006.8px;top:700.75px;font-size:12.4px;color:#0e9a68;letter-spacing:-0.15px;">In stock</div>
<div class="abs" style="left:497.2px;top:752.8px;width:37px;height:37px;background:#f1f1f2;border-radius:9px;"></div>
<svg class="abs" style="left:497.2px;top:752.8px" width="37" height="37" viewBox="0 0 37 37" ><path d="M7.700 14.400L15.500 12.200 17.200 14.500 22.400 19 25.800 21.300 29.800 21.100 31.200 22.500 30.600 24 27 25.900 6.500 25.900 6.500 19z" fill="#9b3a55"/><path d="M7.700 14.400L15.500 12.200 16.200 14.600 11.500 18.200 12 23.300 6.500 23.300 6.500 19z" fill="#eea11d"/><path d="M8.600 14.600l3-.6-.4 1.400 1.400-.2-1.600 1.800-2.200.4z" fill="#7a2a18"/><path d="M12.600 19.400L19.600 19 21.400 23.400 12.400 23.400z" fill="#e9ebee"/><path d="M24.600 21.300l4.800-.3 1.600 1.500-.8 1.100-5 .2z" fill="#f36a2c"/><path d="M24 21l2.400.2-.6 2-2 .2z" fill="#f0b41f"/><path d="M6.500 23.400H29.800L27 25.900H6.500z" fill="#f2f2f2"/><path d="M6.500 25.300H27.800L27 26.200H6.500z" fill="#dca02a"/><path d="M13.600 21c2.200.8 4.200.2 5.600-1.400-1 1.800-3.200 3-5.600 1.400z" fill="#9b3a55"/></svg>
<div class="t" id="pn2" style="left:547.2px;top:765.55px;font-size:12.4px;color:#12141c;letter-spacing:-0.37px;-webkit-text-stroke:0.3px #12141c;">Jordan 1 Retro High</div>
<div class="t" id="pp2" style="left:768px;top:765.55px;font-size:12.4px;color:#12141c;letter-spacing:-0.15px;-webkit-text-stroke:0.15px #12141c;">$789.99</div>
<div class="t" id="ps2" style="left:873.6px;top:765.55px;font-size:12.4px;color:#12141c;letter-spacing:-0.35px;-webkit-text-stroke:0.15px #12141c;">867 pcs</div>
<div class="abs" style="left:985.6px;top:763.6px;width:15.2px;height:15.4px;background:#d3f3e6;border-radius:4.5px;"></div>
<div class="abs" style="left:990.3px;top:768.4px;width:5.8px;height:5.8px;background:#0e9a68;border-radius:3px;"></div>
<div class="t" id="st2" style="left:1006.8px;top:765.55px;font-size:12.4px;color:#0e9a68;letter-spacing:-0.15px;">In stock</div>
</div>
<!--/MAIN-->
</div>
<!--FRAME-->
<svg id="frame" style="position:absolute;left:0;top:0;pointer-events:none" width="1140" height="872" viewBox="0 0 1140 872">
<defs><linearGradient id="sil" x1="0" y1="0" x2="0" y2="1"><stop offset="0" stop-color="#e9e9ea"/><stop offset=".5" stop-color="#e2e2e4"/><stop offset="1" stop-color="#dededf"/></linearGradient>
<clipPath id="ring"><path clip-rule="evenodd" d="M45.9 6.28L1097.8 5.72A37 41 0 0 1 1134.72 46.7L1133.28 825.8A40 42 0 0 1 1093.2 867.79L50.9 867.61A43 40 0 0 1 7.76 827.6L5.06 53.3A41 47 0 0 1 45.9 6.28ZM50 38.19L1088.4 37.31A14 18 0 0 1 1102.36 55.3L1100.84 815.1A22 21 0 0 1 1078.8 836.1L57.7 836.3A18 19.5 0 0 1 39.63 816.8L37.05 54.2A13 16 0 0 1 50 38.19Z"/></clipPath></defs>
<path fill="#fff" fill-rule="evenodd" d="M0 0H1140V872H0ZM46.3 1.68L1098 1.12A40 44 0 0 1 1137.94 45.1L1136.96 825.6A43 45 0 0 1 1093.9 870.6L51 870.6A46 43 0 0 1 4.87 827.6L2.46 51.7A44 50 0 0 1 46.3 1.68Z"/>
<path fill="url(#sil)" fill-rule="evenodd" d="M46.3 1.68L1098 1.12A40 44 0 0 1 1137.94 45.1L1136.96 825.6A43 45 0 0 1 1093.9 870.6L51 870.6A46 43 0 0 1 4.87 827.6L2.46 51.7A44 50 0 0 1 46.3 1.68ZM45.9 6.28L1097.8 5.72A37 41 0 0 1 1134.72 46.7L1133.28 825.8A40 42 0 0 1 1093.2 867.79L50.9 867.61A43 40 0 0 1 7.76 827.6L5.06 53.3A41 47 0 0 1 45.9 6.28Z"/>
<path fill="#191919" fill-rule="evenodd" d="M45.9 6.28L1097.8 5.72A37 41 0 0 1 1134.72 46.7L1133.28 825.8A40 42 0 0 1 1093.2 867.79L50.9 867.61A43 40 0 0 1 7.76 827.6L5.06 53.3A41 47 0 0 1 45.9 6.28ZM50 38.19L1088.4 37.31A14 18 0 0 1 1102.36 55.3L1100.84 815.1A22 21 0 0 1 1078.8 836.1L57.7 836.3A18 19.5 0 0 1 39.63 816.8L37.05 54.2A13 16 0 0 1 50 38.19Z"/>
<path clip-path="url(#ring)" fill="#343434" d="M0 630.600H32V627.400H600L1140 628.400V872H0Z"/>
<path d="M85 1.500h37M134 1.500h37" stroke="#dadadc" stroke-width="1.400" stroke-linecap="round"/>
<path d="M1.800 56v42" stroke="#d0d0d3" stroke-width="1.500" stroke-linecap="round"/>
</svg>
<!--/FRAME-->
</body>
</html>
